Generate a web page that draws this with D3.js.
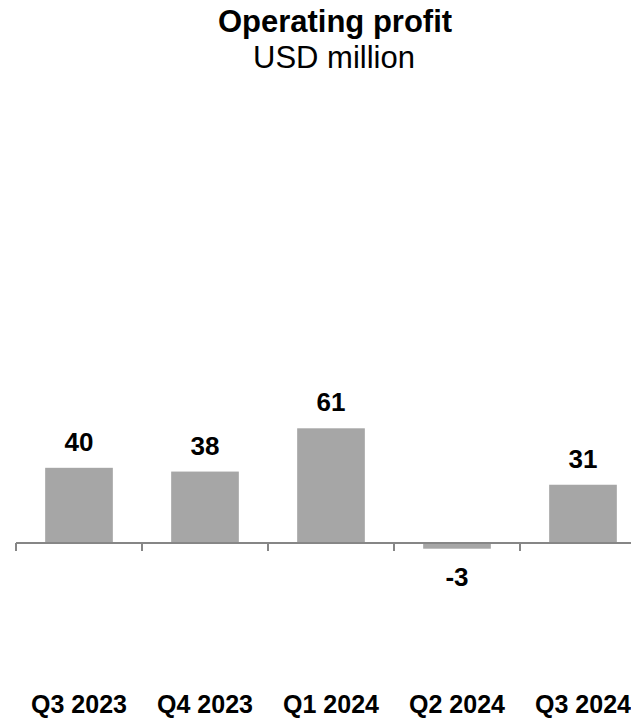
<!DOCTYPE html>
<html>
<head>
<meta charset="utf-8">
<script src="https://cdn.jsdelivr.net/npm/d3@7"></script>
<style>
  body { margin: 0; background: #fff; }
  svg { display: block; font-family: "Liberation Sans", Arial, sans-serif; }
</style>
</head>
<body>
<div id="chart"></div>
<script>
// data
const quarters = ["Q3 2023", "Q4 2023", "Q1 2024", "Q2 2024", "Q3 2024"];
const profit = [40, 38, 61, -3, 31];

const width = 631;
const height = 720;

const svg = d3.select("#chart")
  .append("svg").attr("width", width).attr("height", height);

// plot area runs past the right edge like the original
const x = d3.scaleBand().domain(quarters).range([16, 646])
  .paddingInner(0.463).paddingOuter(0.2315);

const y = d3.scaleLinear().domain([-3, 61]).range([548.7, 428.3]);

const step = x.step();

// title
svg.append("text")
  .attr("x", 335).attr("y", 32)
  .attr("text-anchor", "middle")
  .style("font-size", "31px").style("font-weight", "bold").style("fill", "#000")
  .text("Operating profit");

svg.append("text")
  .attr("x", 334).attr("y", 68)
  .attr("text-anchor", "middle")
  .style("font-size", "31px").style("fill", "#000")
  .text("USD million");

// bars
svg.selectAll(".bar")
  .data(profit)
  .join("rect")
  .attr("class", "bar")
  .attr("x", (d, i) => x(quarters[i]))
  .attr("width", x.bandwidth())
  .attr("y", d => y(Math.max(0, d)))
  .attr("height", d => Math.abs(y(d) - y(0)))
  .attr("fill", "#a6a6a6");

// axis line + ticks at category boundaries
svg.append("line")
  .attr("x1", x.range()[0]).attr("x2", x.range()[1])
  .attr("y1", y(0)).attr("y2", y(0))
  .attr("stroke", "#868686").attr("stroke-width", 2);

const bounds = quarters.map(q => x(q) + x.bandwidth() / 2 - step / 2);
svg.selectAll(".tick")
  .data(bounds)
  .join("line")
  .attr("class", "tick")
  .attr("x1", d => d).attr("x2", d => d)
  .attr("y1", y(0)).attr("y2", y(0) + 8)
  .attr("stroke", "#868686").attr("stroke-width", 2);

// value labels
svg.selectAll(".val")
  .data(profit)
  .join("text")
  .attr("class", "val")
  .attr("x", (d, i) => x(quarters[i]) + x.bandwidth() / 2)
  .attr("y", d => d >= 0 ? y(d) - 17 : y(d) + 37)
  .attr("text-anchor", "middle")
  .style("font-size", "26px").style("font-weight", "bold").style("fill", "#000")
  .text(d => d);

// category labels
svg.selectAll(".cat")
  .data(quarters)
  .join("text")
  .attr("class", "cat")
  .attr("x", d => x(d) + x.bandwidth() / 2)
  .attr("y", 713)
  .attr("text-anchor", "middle")
  .style("font-size", "25px").style("font-weight", "bold").style("fill", "#000")
  .text(d => d);
</script>
</body>
</html>
